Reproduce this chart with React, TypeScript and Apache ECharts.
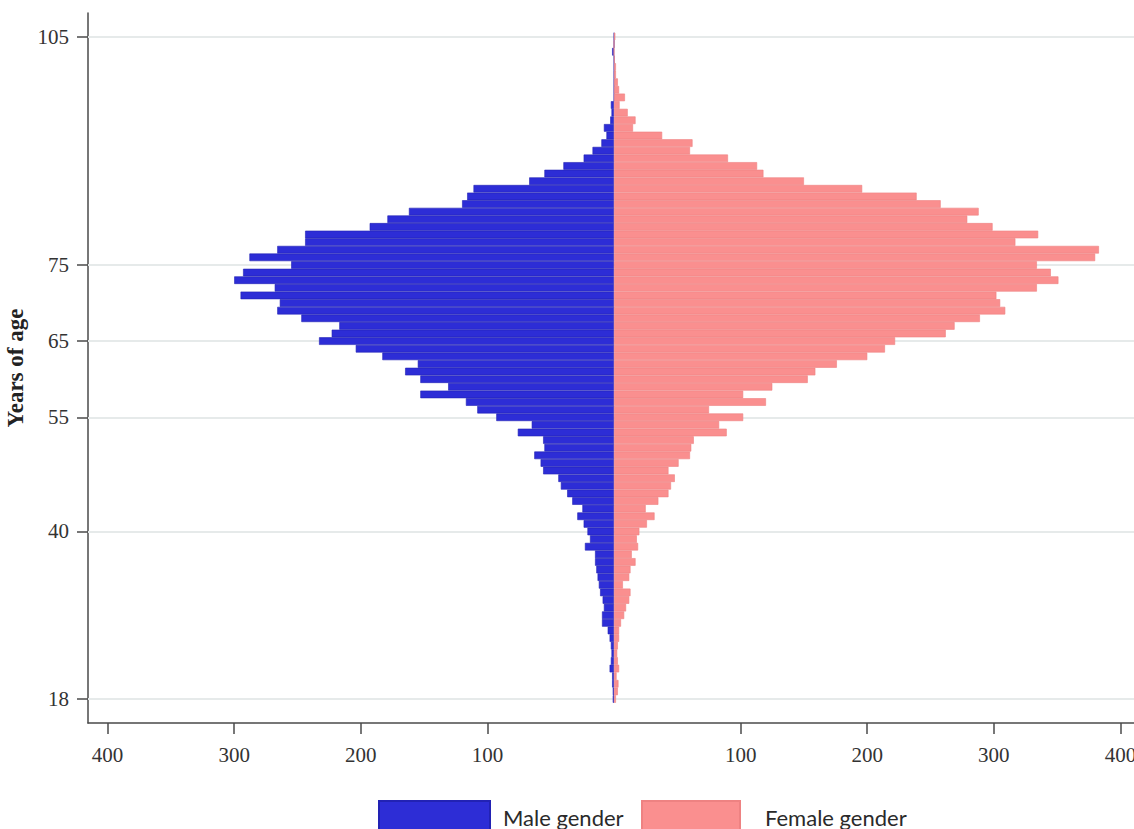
import React, { useEffect, useRef } from "react";
import * as echarts from "echarts";

const ages = [
  18, 19, 20, 21, 22, 23, 24, 25, 26, 27,
  28, 29, 30, 31, 32, 33, 34, 35, 36, 37,
  38, 39, 40, 41, 42, 43, 44, 45, 46, 47,
  48, 49, 50, 51, 52, 53, 54, 55, 56, 57,
  58, 59, 60, 61, 62, 63, 64, 65, 66, 67,
  68, 69, 70, 71, 72, 73, 74, 75, 76, 77,
  78, 79, 80, 81, 82, 83, 84, 85, 86, 87,
  88, 89, 90, 91, 92, 93, 94, 95, 96, 97,
  98, 99, 100, 101, 102, 103, 104, 105,
];

const maleCounts = [
  1, 1, 1.5, 1.5, 3.5, 2.5, 2, 2.5, 3.5, 5,
  9.5, 9.5, 8, 9, 11, 12, 13, 14, 15, 15,
  23, 19, 21, 24, 29, 25, 33, 37, 42, 44,
  56, 58, 63, 55, 56, 76, 65, 93, 108, 117,
  153, 131, 153, 165, 155, 183, 204, 233, 223, 217,
  247, 266, 264, 295, 268, 300, 293, 255, 288, 266,
  244, 244, 193, 179, 162, 120, 116, 111, 67, 55,
  40, 24, 17, 10, 6, 8, 3, 2, 2.5, 0,
  0, 0, 0, 0, 0, 1.5, 0, 0,
];

const femaleCounts = [
  1.5, 3, 3.5, 2, 4, 3, 2.5, 3, 4, 4,
  5.5, 8, 9.5, 12, 13, 7, 12, 13, 17, 14,
  19, 18, 20, 26, 32, 25, 35, 43, 45, 48,
  43, 51, 60, 61, 63, 89, 83, 102, 75, 120,
  102, 125, 153, 159, 176, 200, 214, 222, 262, 269,
  289, 309, 305, 302, 334, 351, 345, 334, 380, 383,
  317, 335, 299, 279, 288, 258, 239, 196, 150, 118,
  113, 90, 60, 62, 38, 15, 17, 10.8, 4.4, 8.6,
  4, 3, 1.5, 1.5, 0.5, 0, 0, 1,
];

const yTickValues = [18, 40, 55, 65, 75, 105];
const xTickValues = [-400, -300, -200, -100, 100, 200, 300, 400];

const SERIF = "'Liberation Serif', 'Times New Roman', serif";
const SANS = "Lato, 'Open Sans', sans-serif";
const AXIS_COLOR = "#4a4a4a";
const MALE_COLOR = "#2d2dd6";
const FEMALE_COLOR = "#fa8f8f";

const X_MIN = -415.5;
const X_MAX = 410.7;

export default function App() {
  const ref = useRef<HTMLDivElement>(null);

  useEffect(() => {
    if (!ref.current) return;
    const chart = echarts.init(ref.current, null, { renderer: "svg" });
    const option = {
      animation: false,
      backgroundColor: "#ffffff",
      grid: [
        { left: 88, right: 0, top: 13, bottom: 106, show: false, containLabel: false, outerBoundsMode: "none" },
        { left: 88, right: 0, top: 32.69, bottom: 126.19, show: false, containLabel: false, outerBoundsMode: "none" },
      ],
      xAxis: [
        {
          gridIndex: 0,
          type: "value",
          min: X_MIN,
          max: X_MAX,
          axisLine: { show: true, onZero: false, lineStyle: { color: AXIS_COLOR, width: 1.5 } },
          axisTick: {
            show: true,
            length: 11,
            customValues: xTickValues,
            lineStyle: { color: AXIS_COLOR, width: 1.5 },
          },
          axisLabel: {
            customValues: xTickValues,
            formatter: (v: number) => String(Math.abs(v)),
            fontFamily: SERIF,
            fontSize: 21,
            color: "#333333",
            margin: 21,
          },
          splitLine: { show: false },
        },
        { gridIndex: 1, type: "value", min: X_MIN, max: X_MAX, show: false },
      ],
      yAxis: [
        {
          gridIndex: 0,
          type: "value",
          min: 14.85,
          max: 108.09,
          axisLine: { show: true, onZero: false, lineStyle: { color: AXIS_COLOR, width: 1.5 } },
          axisTick: {
            show: true,
            length: 11,
            customValues: yTickValues,
            lineStyle: { color: AXIS_COLOR, width: 1.5 },
          },
          axisLabel: {
            customValues: yTickValues,
            fontFamily: SERIF,
            fontSize: 21,
            color: "#333333",
            margin: 19,
          },
          splitLine: { show: false },
          name: "Years of age",
          nameLocation: "middle",
          nameRotate: 90,
          nameGap: 52,
          nameTextStyle: {
            fontFamily: SERIF,
            fontWeight: "bold",
            fontSize: 23,
            color: "#222222",
          },
        },
        { gridIndex: 1, type: "category", data: ages, show: false },
      ],
      legend: [
        {
          data: ["Male gender"],
          left: 378,
          top: 800,
          padding: 0,
          icon: "rect",
          itemWidth: 111,
          itemHeight: 32,
          selectedMode: false,
          textStyle: { fontFamily: SANS, fontSize: 22, color: "#2a2a2a", padding: [0, 0, 0, 8] },
        },
        {
          data: ["Female gender"],
          left: 641,
          top: 800,
          padding: 0,
          icon: "rect",
          itemWidth: 98,
          itemHeight: 32,
          selectedMode: false,
          textStyle: { fontFamily: SANS, fontSize: 22, color: "#2a2a2a", padding: [0, 0, 0, 20] },
        },
      ],
      series: [
        {
          type: "line",
          xAxisIndex: 0,
          yAxisIndex: 0,
          data: [],
          silent: true,
          z: 1,
          markLine: {
            silent: true,
            z: 1,
            symbol: "none",
            label: { show: false },
            lineStyle: { color: "#e6eaea", width: 2, type: "solid" },
            data: yTickValues.map((v) => ({ yAxis: v })),
          },
        },
        {
          name: "Male gender",
          type: "bar",
          xAxisIndex: 1,
          yAxisIndex: 1,
          data: maleCounts.map((v) => -v),
          barGap: "-100%",
          barCategoryGap: "0%",
          z: 10,
          itemStyle: { color: MALE_COLOR, borderColor: "#2222b4", borderWidth: 0.6 },
        },
        {
          name: "Female gender",
          type: "bar",
          xAxisIndex: 1,
          yAxisIndex: 1,
          data: femaleCounts,
          barGap: "-100%",
          barCategoryGap: "0%",
          z: 10,
          itemStyle: { color: FEMALE_COLOR, borderColor: "#ee8282", borderWidth: 0.6 },
        },
      ],
    };
    chart.setOption(option as any);
    return () => chart.dispose();
  }, []);

  return (
    <div
      ref={ref}
      style={{ position: "absolute", left: 0, top: 0, width: 1134, height: 829 }}
    />
  );
}
